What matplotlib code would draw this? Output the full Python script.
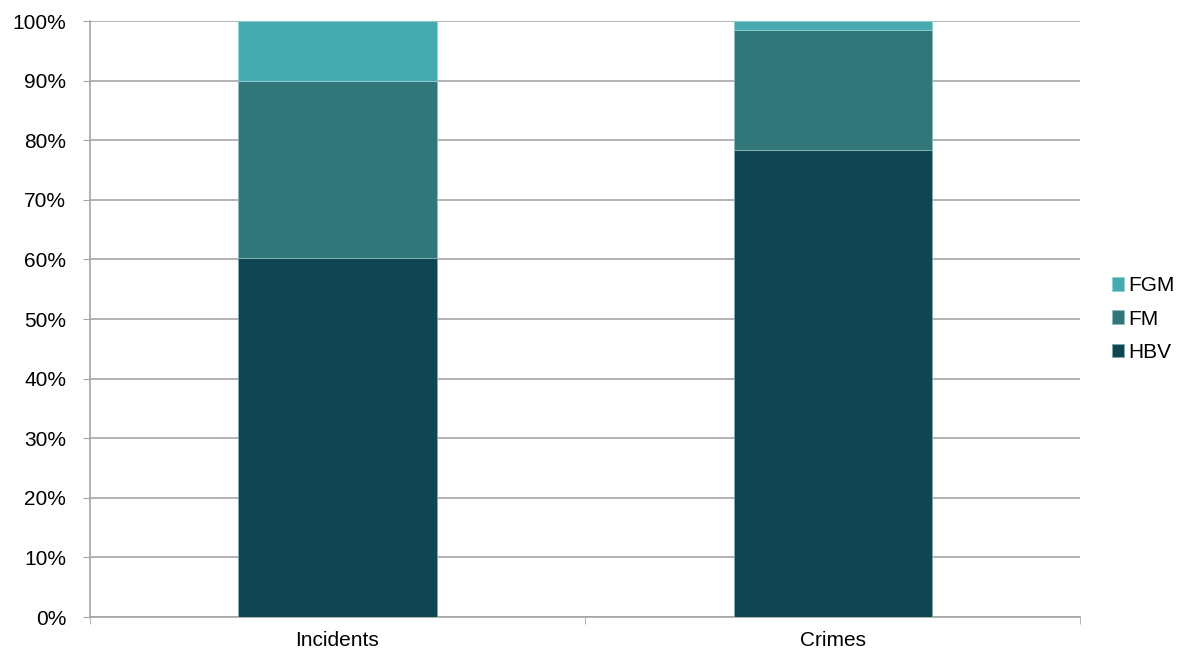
import numpy as np
import matplotlib
matplotlib.use('Agg')
import matplotlib.pyplot as plt
from matplotlib.ticker import PercentFormatter, MultipleLocator

# Data (shares in %)
categories = ['Incidents', 'Crimes']
hbv = [60.2, 78.3]
fm = [29.8, 20.2]
fgm = [10.0, 1.5]

plt.rcParams['font.family'] = ['Liberation Sans', 'DejaVu Sans']

fig = plt.figure(figsize=(11.87, 6.53), dpi=100)
ax = fig.add_axes([0.0758, 0.0551, 0.8341, 0.9127])

x = np.arange(len(categories))
width = 0.4
colors = {'HBV': '#0F4652', 'FM': '#31777A', 'FGM': '#46ABB1'}

b1 = ax.bar(x, hbv, width, color=colors['HBV'], edgecolor='#7FA8AD', linewidth=0.6, label='HBV', zorder=3)
b2 = ax.bar(x, fm, width, bottom=hbv, color=colors['FM'], edgecolor='#8FBABC', linewidth=0.6, label='FM', zorder=3)
bottom2 = [a + b for a, b in zip(hbv, fm)]
b3 = ax.bar(x, fgm, width, bottom=bottom2, color=colors['FGM'], edgecolor='#8FD0D4', linewidth=0.6, label='FGM', zorder=3)

ax.set_xlim(-0.5, 1.5)
ax.set_ylim(0, 100)
ax.yaxis.set_major_locator(MultipleLocator(10))
ax.yaxis.set_major_formatter(PercentFormatter(decimals=0))
ax.grid(axis='y', color='#A6A6A6', linewidth=1.2, zorder=0)

ax.set_xticks(x)
ax.set_xticklabels(categories)
ax.set_xticks([-0.5, 0.5, 1.5], minor=True)
ax.tick_params(axis='x', which='major', length=0, labelsize=15, pad=10)
ax.tick_params(axis='x', which='minor', length=5, color='#A6A6A6', direction='out')
ax.tick_params(axis='y', length=5, color='#A6A6A6', labelsize=15, pad=12, direction='out')

for s in ['top', 'right']:
    ax.spines[s].set_visible(False)
for s in ['left', 'bottom']:
    ax.spines[s].set_color('#A6A6A6')
    ax.spines[s].set_linewidth(1.2)

handles = [b3, b2, b1]
ax.legend(handles, ['FGM', 'FM', 'HBV'], loc='center left', bbox_to_anchor=(1.015, 0.5),
          frameon=False, fontsize=15, handlelength=0.62, handleheight=0.62,
          handletextpad=0.2, labelspacing=0.68, borderpad=0.3)

plt.savefig('out.png', dpi=100)
